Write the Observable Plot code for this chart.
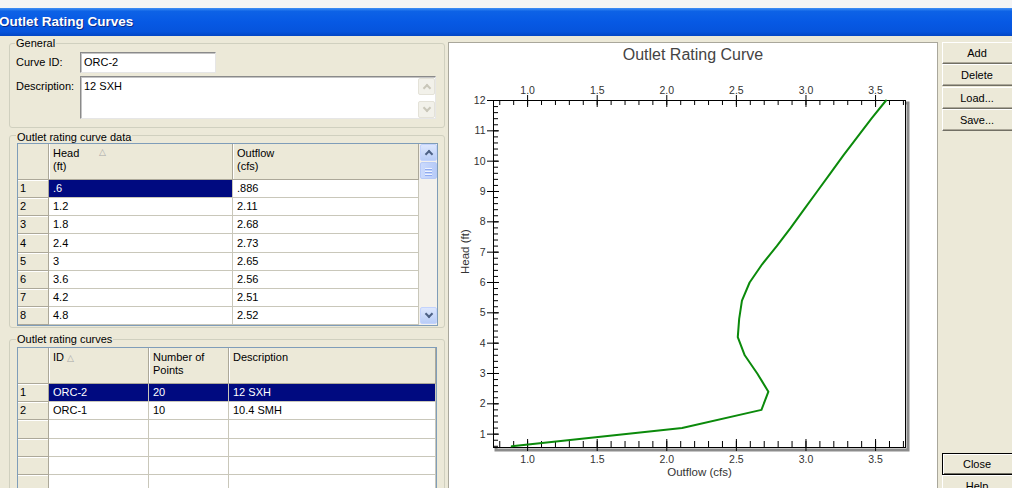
<!DOCTYPE html>
<html><head><meta charset="utf-8">
<script src="https://cdn.jsdelivr.net/npm/d3@7"></script>
<script src="https://cdn.jsdelivr.net/npm/@observablehq/plot@0.6"></script>
<style>
*{box-sizing:border-box}
body{margin:0;width:1012px;height:488px;overflow:hidden;background:#ece9d8;font:11px "Liberation Sans",Arial,sans-serif;color:#000;position:relative}
.a{position:absolute}
#topstrip{left:0;top:0;width:1012px;height:8px;background:#f4f4f4}
#titlebar{left:0;top:8px;width:1012px;height:28px;background:linear-gradient(to bottom,#3f8ef4 0%,#0d62e6 12%,#0759e4 50%,#0654dc 85%,#0346c4 100%)}
#titlebar span{position:absolute;left:-1px;top:6px;font:bold 13.5px "Liberation Sans",Arial,sans-serif;color:#fff;text-shadow:1px 1px 0 #0b2a8a;white-space:nowrap}
.group{position:absolute;border:1px solid #d0d0bf;border-radius:3px}
.glabel{position:absolute;background:#ece9d8;padding:0 1px;line-height:12px;white-space:nowrap}
.lbl{position:absolute;line-height:12px;white-space:nowrap}
.field{position:absolute;background:#fff;border:1px solid;border-color:#8a8a8a #e6e6e6 #e6e6e6 #8a8a8a;box-shadow:inset 1px 1px 0 #c4c4c4;padding:3px 0 0 3px;line-height:13px;white-space:nowrap}
.cell{position:absolute;overflow:hidden;white-space:nowrap}
.hdr{background:#ece9d8;border-right:1px solid #aca899;border-bottom:1px solid #aca899;box-shadow:inset 1px 1px 0 #fff;padding:4px 4px;line-height:13px}
.rh{background:#ece9d8;border-right:1px solid #aca899;border-bottom:1px solid #aca899;box-shadow:inset 1px 1px 0 #fff;padding-left:3px}
.dc{background:#fff;border-right:1px solid #c9c7ba;border-bottom:1px solid #c9c7ba;padding-left:4px}
.sel{background:#000a80;color:#fff}
.outer{position:absolute;border:1px solid #7f9db9;pointer-events:none}
.tri{font:9px "DejaVu Sans",sans-serif;color:#a8a8a8}
.sb{position:absolute;background:#f3f1ec}
.sbtn{position:absolute;width:17px;height:17px;border:1px solid #c3d3fd;border-radius:2px;background:linear-gradient(to bottom,#dde7fd,#b9cdf7)}
.sbtn.dis{border-color:#e4e2d8;background:#f2f1ea}
.chev{position:absolute;left:5px;top:6px;width:6px;height:6px;border-left:2px solid #4d6185;border-top:2px solid #4d6185;transform:rotate(45deg)}
.chev.down{transform:rotate(225deg);top:3px}
.dis .chev{border-color:#c9c7ba}
.thumb{position:absolute;width:17px;border:1px solid #b6c9f7;border-radius:2px;background:linear-gradient(to right,#cbdafc,#b7cbf8)}
.grip{position:absolute;left:4px;width:7px;height:1px;background:#eef3fe;box-shadow:0 1px 0 #8faaf0}
.btn{position:absolute;left:942px;width:78px;height:22px;background:#ece9d8;border:1px solid;border-color:#fff #716f64 #716f64 #fff;box-shadow:inset -1px -1px 0 #aca899;text-align:center;line-height:20px;padding-right:8px}
.btn.def{border:1px solid #000;box-shadow:inset 1px 1px 0 #fff,inset -1px -1px 0 #716f64}
#panel{left:448px;top:42px;width:490px;height:460px;background:#fff;border:1px solid #a9a79b}
#ctitle{left:449px;top:45px;width:488px;text-align:center;font:16px "Liberation Sans",Arial,sans-serif;color:#444;line-height:20px}
#chart{position:absolute;left:449px;top:68px}
</style></head>
<body>
<div id="topstrip" class="a"></div>
<div id="titlebar" class="a"><span>Outlet Rating Curves</span></div>

<div class="group" style="left:9px;top:43px;width:436px;height:85px"></div>
<div class="glabel" style="left:15px;top:37px">General</div>
<div class="lbl" style="left:16px;top:56px">Curve ID:</div>
<div class="field" style="left:80px;top:52px;width:136px;height:21px">ORC-2</div>
<div class="lbl" style="left:16px;top:80px">Description:</div>
<div class="field" style="left:80px;top:76px;width:356px;height:43px">12 SXH</div>
<div class="sbtn dis" style="left:418px;top:78px"><div class="chev"></div></div>
<div class="sbtn dis" style="left:418px;top:101px"><div class="chev down"></div></div>

<div class="group" style="left:9px;top:135px;width:436px;height:193px"></div>
<div class="glabel" style="left:16px;top:131px">Outlet rating curve data</div>

<div class="group" style="left:9px;top:339px;width:436px;height:160px"></div>
<div class="glabel" style="left:16px;top:333px">Outlet rating curves</div>

<div id="grids"></div>

<div id="panel" class="a"></div>
<div id="ctitle" class="a">Outlet Rating Curve</div>

<div class="btn" style="top:42px">Add</div>
<div class="btn" style="top:64px">Delete</div>
<div class="btn" style="top:87px">Load...</div>
<div class="btn" style="top:109px">Save...</div>
<div class="btn def" style="top:453px">Close</div>
<div class="btn" style="top:475px">Help</div>

<script>
// ---- chart data (Head in ft, Outflow in cfs) ----
const head = [0.6, 1.2, 1.8, 2.4, 3.0, 3.6, 4.2, 4.8, 5.4, 6.0, 6.6, 7.2, 7.8, 8.4, 9.0, 9.6, 10.2, 10.8, 11.4, 12.0];
const outflow = [0.886, 2.11, 2.68, 2.73, 2.65, 2.56, 2.51, 2.52, 2.54, 2.595, 2.685, 2.79, 2.89, 2.985, 3.08, 3.175, 3.27, 3.37, 3.47, 3.575];

// ---- axis tick labels ----
const xMajor = [1.0, 1.5, 2.0, 2.5, 3.0, 3.5];
const yMajor = [1, 2, 3, 4, 5, 6, 7, 8, 9, 10, 11, 12];
const xDomain = [0.755, 3.715];
const yDomain = [0.56, 12];

// ---- grid table texts ----
const gridHead = [".6", "1.2", "1.8", "2.4", "3", "3.6", "4.2", "4.8"];
const gridOutflow = [".886", "2.11", "2.68", "2.73", "2.65", "2.56", "2.51", "2.52"];
const curveIds = ["ORC-2", "ORC-1"];
const curvePoints = ["20", "10"];
const curveDescs = ["12 SXH", "10.4 SMH"];

// ---- build UI grids ----
const host = document.getElementById("grids");
function cell(x, y, w, h, cls, html) {
  const d = document.createElement("div");
  d.className = "cell " + cls;
  Object.assign(d.style, {left: x + "px", top: y + "px", width: w + "px", height: h + "px", lineHeight: (cls.includes("hdr") ? 13 : h - 1) + "px"});
  d.innerHTML = html;
  host.appendChild(d);
  return d;
}
function el(cls, style, html = "") {
  const d = document.createElement("div");
  d.className = cls;
  d.setAttribute("style", style);
  d.innerHTML = html;
  host.appendChild(d);
  return d;
}
// grid 1
{
  const xs = [17, 49, 233, 419];
  const top = 143, hh = 37, rh = 18.125;
  cell(xs[0], top, xs[1] - xs[0], hh, "hdr", "");
  const h1 = cell(xs[1], top, xs[2] - xs[1], hh, "hdr", "Head<br>(ft)");
  h1.innerHTML += '<span class="tri" style="position:absolute;left:50px;top:4px">△</span>';
  cell(xs[2], top, xs[3] - xs[2], hh, "hdr", "Outflow<br>(cfs)");
  gridHead.forEach((v, i) => {
    const y = Math.round(top + hh + i * rh);
    const h = Math.round(top + hh + (i + 1) * rh) - y;
    cell(xs[0], y, xs[1] - xs[0], h, "rh", String(i + 1));
    cell(xs[1], y, xs[2] - xs[1], h, "dc" + (i === 0 ? " sel" : ""), v);
    cell(xs[2], y, xs[3] - xs[2], h, "dc", gridOutflow[i]);
  });
  el("sb", "left:419px;top:143px;width:19px;height:182px");
  el("sbtn", "left:420px;top:144px", '<div class="chev"></div>');
  el("thumb", "left:420px;top:162px;height:17px", '<div class="grip" style="top:5px"></div><div class="grip" style="top:8px"></div><div class="grip" style="top:11px"></div>');
  el("sbtn", "left:420px;top:307px", '<div class="chev down"></div>');
  el("outer", "left:17px;top:143px;width:421px;height:183px");
}
// grid 2
{
  const xs = [17, 49, 149, 229, 436];
  const top = 347, hh = 37, rh = 18.2;
  cell(xs[0], top, xs[1] - xs[0], hh, "hdr", "");
  cell(xs[1], top, xs[2] - xs[1], hh, "hdr", 'ID <span class="tri">△</span>');
  cell(xs[2], top, xs[3] - xs[2], hh, "hdr", "Number of<br>Points");
  cell(xs[3], top, xs[4] - xs[3], hh, "hdr", "Description");
  for (let i = 0; i < 6; i++) {
    const y = Math.round(top + hh + i * rh);
    const h = Math.round(top + hh + (i + 1) * rh) - y;
    const s = i === 0 ? " sel" : "";
    cell(xs[0], y, xs[1] - xs[0], h, "rh", i < curveIds.length ? String(i + 1) : "");
    cell(xs[1], y, xs[2] - xs[1], h, "dc" + s, curveIds[i] || "");
    cell(xs[2], y, xs[3] - xs[2], h, "dc" + s, curvePoints[i] || "");
    cell(xs[3], y, xs[4] - xs[3], h, "dc" + s, curveDescs[i] || "");
  }
  el("outer", "left:17px;top:347px;width:420px;height:160px");
}

// ---- chart ----
const data = head.map((h, i) => ({head: h, outflow: outflow[i]}));
const xMinor = d3.range(8, 38).map(v => v / 10);          // every 0.1
const yMinor = d3.range(3, 61).map(v => v / 5);           // every 0.2
const X0 = xDomain[0], Y0 = yDomain[0], Y1 = yDomain[1];
const fmt = d3.format(".1f");

const chart = Plot.plot({
  width: 488,
  height: 420,
  marginLeft: 44,
  marginRight: 32,
  marginTop: 32,
  marginBottom: 41,
  x: {domain: xDomain},
  y: {domain: yDomain},
  style: {fontFamily: '"Liberation Sans", Arial, sans-serif', fontSize: "10.5px", color: "#333", background: "transparent", overflow: "visible"},
  marks: [
    Plot.frame({stroke: "#8c8c8c", strokeWidth: 3, dx: 2.5, dy: 2.5}),
    Plot.frame({fill: "white", stroke: "black"}),
    // inward ticks: bottom / top
    Plot.ruleX(xMinor, {x: d => d, y1: () => Y0, y2: () => Y0, insetTop: -6, stroke: "black"}),
    Plot.ruleX(xMinor, {x: d => d, y1: () => Y1, y2: () => Y1, insetBottom: -5, stroke: "black"}),
    Plot.ruleX(xMajor, {x: d => d, y1: () => Y0, y2: () => Y0, insetTop: -8, stroke: "black"}),
    Plot.ruleX(xMajor, {x: d => d, y1: () => Y1, y2: () => Y1, insetBottom: -7, stroke: "black"}),
    // inward ticks: left
    Plot.ruleY(yMinor, {y: d => d, x1: () => X0, x2: () => X0, insetRight: -5, stroke: "black"}),
    Plot.ruleY(yMajor, {y: d => d, x1: () => X0, x2: () => X0, insetRight: -6, stroke: "black"}),
    // axes (outward ticks + labels)
    Plot.axisX({anchor: "bottom", ticks: xMajor, tickSize: 4, tickPadding: 4, tickFormat: fmt, label: null, stroke: "black"}),
    Plot.axisX({anchor: "top", ticks: xMajor, tickSize: 6, tickPadding: 1, tickFormat: fmt, label: null, stroke: "black"}),
    Plot.axisY({anchor: "left", ticks: yMajor, tickSize: 6, tickPadding: 2, label: null, stroke: "black"}),
    // rating curve
    Plot.line(data, {x: "outflow", y: "head", stroke: "#0b8a0b", strokeWidth: 2, strokeLinejoin: "round"}),
    // axis titles
    Plot.text(["Outflow (cfs)"], {frameAnchor: "bottom", dy: 28, text: d => d, fontSize: 11.5, fill: "#333"}),
    Plot.text(["Head (ft)"], {frameAnchor: "left", dx: -28, rotate: -90, text: d => d, fontSize: 11.5, fill: "#333"})
  ]
});
chart.id = "chart";
document.body.appendChild(chart);
</script>
</body></html>
